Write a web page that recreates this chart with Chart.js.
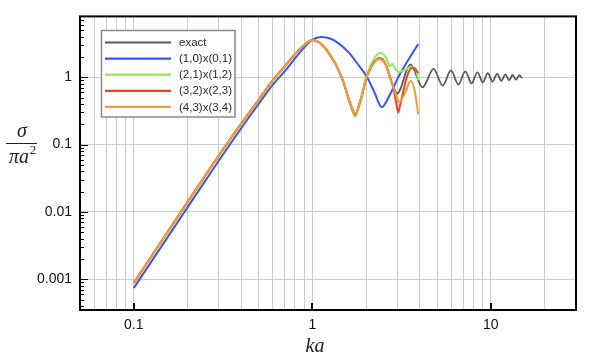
<!DOCTYPE html>
<html>
<head>
<meta charset="utf-8">
<script src="https://cdn.jsdelivr.net/npm/chart.js@4.4.0/dist/chart.umd.min.js"></script>
<style>
html, body { margin: 0; padding: 0; background: #fff; }
#wrap { width: 600px; height: 363px; }
</style>
</head>
<body>
<div id="wrap"><canvas id="rcsChart"></canvas></div>
<script>
const xTickLabels = [0.1, 1, 10];
const yTickLabels = [0.001, 0.01, 0.1, 1];
const seriesNames = ['exact', '(1,0)x(0,1)', '(2,1)x(1,2)', '(3,2)x(2,3)', '(4,3)x(3,4)'];
const seriesColors = ['#585858', '#3456ff', '#8aee58', '#ee4424', '#f59a38'];

const kaExact = [0.1, 0.2, 0.3, 0.4, 0.5, 0.6, 0.7, 0.8, 0.9, 1.0, 1.1, 1.2, 1.3, 1.4, 1.5, 1.6, 1.68, 1.74, 1.8, 1.9, 2.0, 2.1, 2.2, 2.3, 2.38, 2.5, 2.6, 2.72, 2.85, 3.0, 3.15, 3.35, 3.55,
  4.15, 4.78, 5.38, 5.98, 6.58, 7.2, 7.8, 8.42, 9.02, 9.62, 10.22, 10.85, 11.45, 12.05, 12.65, 13.25, 13.85, 14.45, 14.95];
const sigmaExact = [0.00088, 0.014, 0.069, 0.205, 0.46, 0.9, 1.45, 2.2, 3.0, 3.58, 3.25, 2.55, 1.85, 1.3, 0.82, 0.47, 0.33, 0.275, 0.34, 0.55, 0.95, 1.3, 1.6, 1.82, 1.87, 1.75, 1.45, 1.0, 0.72, 0.57, 0.72, 1.2, 1.55,
  0.71, 1.33, 0.75, 1.26, 0.78, 1.22, 0.81, 1.18, 0.84, 1.15, 0.86, 1.12, 0.88, 1.1, 0.9, 1.08, 0.92, 1.07, 0.97];

const kaBlue = [0.1, 0.2, 0.3, 0.4, 0.5, 0.6, 0.7, 0.8, 0.9, 1.0, 1.12, 1.2, 1.335, 1.594, 1.82, 2.03, 2.22, 2.45, 2.71, 3.03, 3.39, 3.92];
const sigmaBlue = [0.00074, 0.0117, 0.058, 0.175, 0.40, 0.77, 1.22, 1.9, 2.75, 3.6, 3.95, 3.9, 3.5, 2.36, 1.5, 1.0, 0.61, 0.36, 0.54, 1.0, 1.68, 3.12];

const kaGreen = [0.1, 0.2, 0.3, 0.4, 0.5, 0.6, 0.7, 0.8, 0.9, 1.0, 1.1, 1.2, 1.3, 1.4, 1.5, 1.6, 1.68, 1.74, 1.8, 1.9, 2.0, 2.1, 2.2, 2.3, 2.4, 2.5, 2.6, 2.72, 2.8, 2.92, 3.05, 3.3, 3.6, 3.75, 3.85, 3.92];
const sigmaGreen = [0.00088, 0.014, 0.069, 0.205, 0.46, 0.9, 1.45, 2.2, 3.0, 3.58, 3.28, 2.6, 1.9, 1.32, 0.82, 0.46, 0.31, 0.26, 0.33, 0.56, 0.97, 1.4, 1.82, 2.15, 2.28, 2.2, 1.9, 1.45, 1.58, 1.32, 1.2, 1.28, 1.43, 1.38, 1.15, 0.9];

const kaRed = [0.1, 0.2, 0.3, 0.4, 0.5, 0.6, 0.7, 0.8, 0.9, 1.0, 1.1, 1.2, 1.3, 1.4, 1.5, 1.6, 1.68, 1.74, 1.8, 1.9, 2.0, 2.1, 2.2, 2.3, 2.38, 2.5, 2.6, 2.72, 2.85, 2.95, 3.03, 3.1, 3.2, 3.4, 3.62, 3.8, 3.92];
const sigmaRed = [0.00088, 0.014, 0.069, 0.205, 0.46, 0.9, 1.45, 2.2, 3.0, 3.58, 3.25, 2.55, 1.85, 1.3, 0.82, 0.47, 0.33, 0.275, 0.34, 0.55, 0.95, 1.3, 1.62, 1.85, 1.93, 1.8, 1.48, 1.02, 0.68, 0.42, 0.3, 0.38, 0.55, 1.05, 1.38, 1.3, 1.15];

const kaOrange = [0.1, 0.2, 0.3, 0.4, 0.5, 0.6, 0.7, 0.8, 0.9, 1.0, 1.1, 1.2, 1.3, 1.4, 1.5, 1.6, 1.68, 1.74, 1.8, 1.9, 2.0, 2.1, 2.2, 2.3, 2.38, 2.5, 2.6, 2.72, 2.85, 2.98, 3.07, 3.3, 3.56, 3.75, 3.92];
const sigmaOrange = [0.00088, 0.014, 0.069, 0.205, 0.46, 0.9, 1.45, 2.2, 3.0, 3.58, 3.25, 2.55, 1.85, 1.3, 0.82, 0.47, 0.33, 0.275, 0.34, 0.55, 0.95, 1.3, 1.6, 1.82, 1.87, 1.75, 1.45, 1.0, 0.7, 0.5, 0.43, 0.58, 0.88, 0.62, 0.28];

const seriesKa = [kaExact, kaBlue, kaGreen, kaRed, kaOrange];
const seriesSigma = [sigmaExact, sigmaBlue, sigmaGreen, sigmaRed, sigmaOrange];

function isMajor(v) {
    const l = Math.log10(v);
    return Math.abs(l - Math.round(l)) < 1e-9;
}

function logTicks(min, max) {
    const out = [];
    for (let e = Math.floor(Math.log10(min)); e <= Math.ceil(Math.log10(max)); e++) {
        for (let m = 1; m <= 9; m++) {
            const v = parseFloat((m * Math.pow(10, e)).toPrecision(6));
            if (v >= min * 0.9999 && v <= max * 1.0001) out.push({ value: v });
        }
    }
    return out;
}

const datasets = seriesNames.map((name, i) => ({
    label: name,
    data: seriesKa[i].map((k, j) => ({ x: k, y: seriesSigma[i][j] })),
    borderColor: seriesColors[i],
    borderWidth: i === 0 ? 1.8 : 2,
    pointRadius: 0,
    fill: false,
    cubicInterpolationMode: 'monotone',
    order: 5 - i
}));

const framePlugin = {
    id: 'framePlugin',
    afterDraw(chart) {
        const { ctx, chartArea: a, scales: { x, y } } = chart;
        ctx.save();
        ctx.strokeStyle = '#000';
        // inner tick marks on the left axis
        y.ticks.forEach(t => {
            const py = Math.round(y.getPixelForValue(t.value)) + 0.5;
            ctx.lineWidth = 1;
            ctx.beginPath();
            ctx.moveTo(a.left, py);
            ctx.lineTo(a.left + (isMajor(t.value) ? 8 : 4), py);
            ctx.stroke();
        });
        xTickLabels.forEach(v => {
            const px = Math.round(x.getPixelForValue(v));
            ctx.lineWidth = 2;
            ctx.beginPath();
            ctx.moveTo(px, a.bottom);
            ctx.lineTo(px, a.bottom - 7);
            ctx.stroke();
        });
        ctx.lineWidth = 2;
        ctx.strokeRect(a.left, a.top, a.right - a.left, a.bottom - a.top);

        // legend box
        const lx = 101.5, ly = 30.5, lw = 133.5, lh = 86.5;
        ctx.fillStyle = '#fff';
        ctx.fillRect(lx, ly, lw, lh);
        ctx.strokeStyle = '#8a8a8a';
        ctx.lineWidth = 1.5;
        ctx.strokeRect(lx, ly, lw, lh);
        ctx.font = '11.5px "Liberation Sans", Arial, sans-serif';
        ctx.textBaseline = 'middle';
        ctx.textAlign = 'left';
        seriesNames.forEach((name, i) => {
            const ry = 42.5 + i * 16.1;
            ctx.strokeStyle = seriesColors[i];
            ctx.lineWidth = 2.2;
            ctx.beginPath();
            ctx.moveTo(105, ry);
            ctx.lineTo(171, ry);
            ctx.stroke();
            ctx.fillStyle = '#2a2a2a';
            ctx.fillText(name, 179, ry + 0.5);
        });

        // axis titles
        ctx.fillStyle = '#222';
        ctx.textAlign = 'center';
        ctx.textBaseline = 'alphabetic';
        ctx.font = 'italic 20px "Liberation Serif", "DejaVu Serif", serif';
        ctx.fillText('ka', 315, 352);
        ctx.fillText('σ', 22, 137);
        ctx.fillText('πa', 19, 163);
        ctx.font = '13px "Liberation Serif", "DejaVu Serif", serif';
        ctx.fillText('2', 33, 154);
        ctx.strokeStyle = '#222';
        ctx.lineWidth = 1;
        ctx.beginPath();
        ctx.moveTo(6, 143.5);
        ctx.lineTo(37, 143.5);
        ctx.stroke();
        ctx.restore();
    }
};

new Chart(document.getElementById('rcsChart'), {
    type: 'line',
    data: { datasets },
    plugins: [framePlugin],
    options: {
        responsive: true,
        maintainAspectRatio: false,
        animation: false,
        devicePixelRatio: 1,
        layout: { padding: { top: 14.5, right: 24, left: 0, bottom: 0 } },
        plugins: { legend: { display: false }, tooltip: { enabled: false } },
        scales: {
            x: {
                type: 'logarithmic',
                min: 0.05,
                max: 30,
                afterBuildTicks: s => { s.ticks = logTicks(0.05, 30); },
                afterFit: s => { s.height = 53; },
                grid: { color: '#cccccc', lineWidth: 1, drawTicks: false },
                border: { display: false },
                ticks: {
                    autoSkip: false, maxRotation: 0, padding: 7, color: '#111',
                    font: { family: '"Liberation Sans", Arial, sans-serif', size: 14 },
                    callback: v => xTickLabels.includes(v) ? String(v) : ''
                }
            },
            y: {
                type: 'logarithmic',
                min: 0.00035,
                max: 8,
                afterBuildTicks: s => { s.ticks = logTicks(0.00035, 8); },
                afterFit: s => { s.width = 80; },
                grid: {
                    color: c => isMajor(c.tick.value) ? '#cccccc' : 'rgba(0,0,0,0)',
                    lineWidth: 1, drawTicks: false
                },
                border: { display: false },
                ticks: {
                    autoSkip: false, padding: 8, color: '#111',
                    font: { family: '"Liberation Sans", Arial, sans-serif', size: 14 },
                    callback: v => yTickLabels.includes(v) ? String(v) : ''
                }
            }
        }
    }
});
</script>
</body>
</html>
